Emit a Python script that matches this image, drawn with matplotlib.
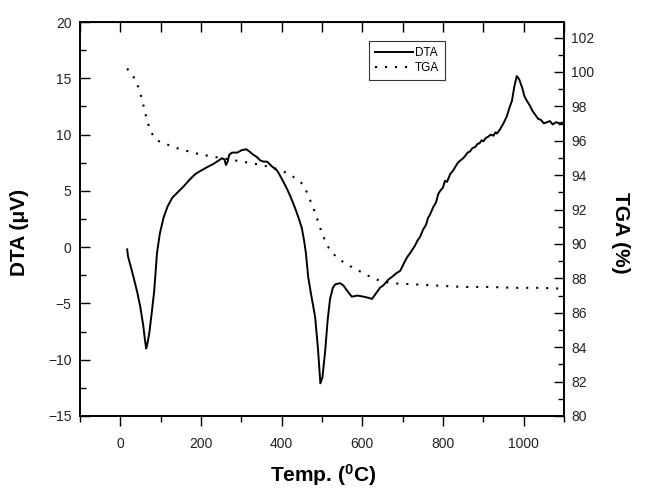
import matplotlib
matplotlib.use('Agg')
import matplotlib.pyplot as plt
from matplotlib.ticker import MultipleLocator

plt.rcParams['font.family'] = ['Liberation Sans', 'DejaVu Sans']
plt.rcParams['mathtext.fontset'] = 'custom'
plt.rcParams['mathtext.rm'] = 'Liberation Sans'
plt.rcParams['mathtext.bf'] = 'Liberation Sans:bold'

# DTA curve (temperature in C, signal in microvolt)
dta_temp = [17, 19, 25, 33, 42, 50, 57, 61, 64, 67, 72, 78, 84, 91, 98, 107, 117, 129,
            143, 157, 172, 186, 200, 215, 231, 244, 252, 258, 262, 266, 270, 277, 290,
            300, 312, 320, 330, 339, 347, 355, 364, 375, 389, 400, 413, 423, 433, 442,
            450, 456, 460, 466, 473, 483, 490, 496, 501, 508, 514, 520, 527, 533, 545,
            553, 563, 574, 588, 603, 615, 624, 634, 644, 652, 664, 675, 685, 694, 705,
            711, 719, 730, 737, 743, 750, 758, 763, 768, 775, 783, 788, 793, 800, 805,
            810, 818, 825, 830, 837, 843, 850, 855, 861, 867, 873, 880, 886, 890, 896,
            900, 906, 912, 918, 925, 930, 934, 942, 950, 958, 965, 971, 977, 983, 989,
            996, 1002, 1008, 1015, 1022, 1028, 1036, 1043, 1050, 1058, 1065, 1072,
            1080, 1090, 1100]
dta_val = [-0.2, -0.8, -1.6, -2.7, -4.0, -5.4, -7.0, -8.2, -9.0, -8.6, -7.6, -5.8, -3.9,
           -0.5, 1.2, 2.6, 3.6, 4.4, 4.9, 5.4, 6.0, 6.5, 6.8, 7.1, 7.4, 7.7, 7.9, 7.8,
           7.3, 7.6, 8.2, 8.4, 8.4, 8.6, 8.7, 8.5, 8.2, 8.0, 7.7, 7.6, 7.6, 7.2, 6.8,
           6.1, 5.2, 4.4, 3.5, 2.6, 1.7, 0.5, -0.5, -2.7, -4.2, -6.2, -9.0, -12.1,
           -11.6, -9.2, -6.5, -4.6, -3.6, -3.3, -3.2, -3.4, -3.9, -4.4, -4.3, -4.4,
           -4.5, -4.6, -4.1, -3.6, -3.4, -2.9, -2.6, -2.3, -2.1, -1.3, -0.9, -0.5,
           0.1, 0.6, 0.9, 1.5, 2.0, 2.6, 2.9, 3.5, 4.0, 4.7, 5.0, 5.3, 5.9, 5.8, 6.5,
           6.8, 7.1, 7.5, 7.7, 7.9, 8.1, 8.4, 8.5, 8.8, 8.9, 9.2, 9.2, 9.5, 9.4, 9.7,
           9.8, 10.0, 9.9, 10.2, 10.1, 10.5, 11.0, 11.6, 12.4, 13.0, 14.3, 15.2, 14.9,
           14.2, 13.4, 13.0, 12.6, 12.1, 11.8, 11.4, 11.3, 11.0, 11.1, 11.2, 10.9,
           11.1, 11.0, 11.1]

# TGA curve (temperature in C, mass in %)
tga_temp = [17, 22, 33, 45, 54, 60, 66, 73, 81, 92, 104, 125, 149, 175, 198, 225, 248,
            275, 297, 325, 347, 375, 396, 415, 429, 441, 451, 459, 466, 475, 483, 492,
            500, 508, 516, 526, 537, 556, 578, 603, 627, 640, 652, 670, 686, 730, 768,
            810, 850, 917, 974, 1040, 1100]
tga_val = [100.2, 100.0, 99.7, 99.1, 98.4, 97.8, 97.2, 96.7, 96.3, 96.0, 95.9, 95.7,
           95.5, 95.35, 95.2, 95.1, 95.0, 94.9, 94.8, 94.7, 94.6, 94.45, 94.3, 94.1,
           93.9, 93.7, 93.5, 93.2, 92.8, 92.3, 91.8, 91.2, 90.6, 90.2, 89.8, 89.5,
           89.2, 88.9, 88.6, 88.3, 88.0, 87.9, 87.8, 87.75, 87.7, 87.65, 87.6, 87.55,
           87.5, 87.5, 87.45, 87.45, 87.4]

fig = plt.figure(figsize=(6.45, 4.96), dpi=100)
ax = fig.add_axes([0.124, 0.1613, 0.7504, 0.7943])
ax2 = ax.twinx()

l1, = ax.plot(dta_temp, dta_val, color='black', lw=1.4, label='DTA')
l2, = ax2.plot(tga_temp, tga_val, color='black', lw=1.5, ls=(0, (1, 3.8)), label='TGA')

ax.set_xlim(-100, 1100)
ax.set_ylim(-15, 20)
ax2.set_ylim(80, 102.9)

ax.xaxis.set_major_locator(MultipleLocator(200))
ax.xaxis.set_minor_locator(MultipleLocator(100))
ax.yaxis.set_major_locator(MultipleLocator(5))
ax.yaxis.set_minor_locator(MultipleLocator(2.5))
ax2.yaxis.set_major_locator(MultipleLocator(2))
ax2.yaxis.set_minor_locator(MultipleLocator(1))

lab_col = '#222222'
ax.tick_params(axis='x', which='major', direction='out', length=7, width=1,
               labelsize=10, labelcolor=lab_col, pad=8)
ax.tick_params(axis='x', which='minor', direction='out', length=4, width=1)
ax.tick_params(axis='y', which='major', direction='in', length=7, width=1,
               labelsize=10, labelcolor=lab_col, pad=6)
ax.tick_params(axis='y', which='minor', direction='in', length=4, width=1)
ax2.tick_params(axis='y', which='major', direction='in', length=7, width=1,
                labelsize=10, labelcolor=lab_col, pad=5)
ax2.tick_params(axis='y', which='minor', direction='in', length=4, width=1)

# top axis: ticks every 100, all pointing inward
top = ax.secondary_xaxis('top')
top.xaxis.set_major_locator(MultipleLocator(100))
top.tick_params(direction='in', length=7, width=1, labeltop=False)

for a in (ax, ax2):
    for s in a.spines.values():
        s.set_linewidth(1.2)

ax.set_xlabel(r'Temp. ($\mathbf{^0}$C)', fontsize=15, fontweight='bold', va='center')
ax.xaxis.set_label_coords(0.502, -0.15)
ax.set_ylabel('DTA (μV)', fontsize=15, fontweight='bold', va='center')
ax.yaxis.set_label_coords(-0.124, 0.465)
ax2.set_ylabel('TGA (%)', fontsize=15, fontweight='bold', rotation=270, va='center')
ax2.yaxis.set_label_coords(1.116, 0.465)

leg = ax2.legend(handles=[l1, l2], loc='upper left', bbox_to_anchor=(0.597, 0.952),
                 borderaxespad=0, fontsize=8.5, frameon=True, fancybox=False,
                 handlelength=3.2, handletextpad=0.2, borderpad=0.5, labelspacing=0.3)
leg.get_frame().set_edgecolor('black')
leg.get_frame().set_linewidth(0.8)

fig.savefig('out.png', dpi=100)
